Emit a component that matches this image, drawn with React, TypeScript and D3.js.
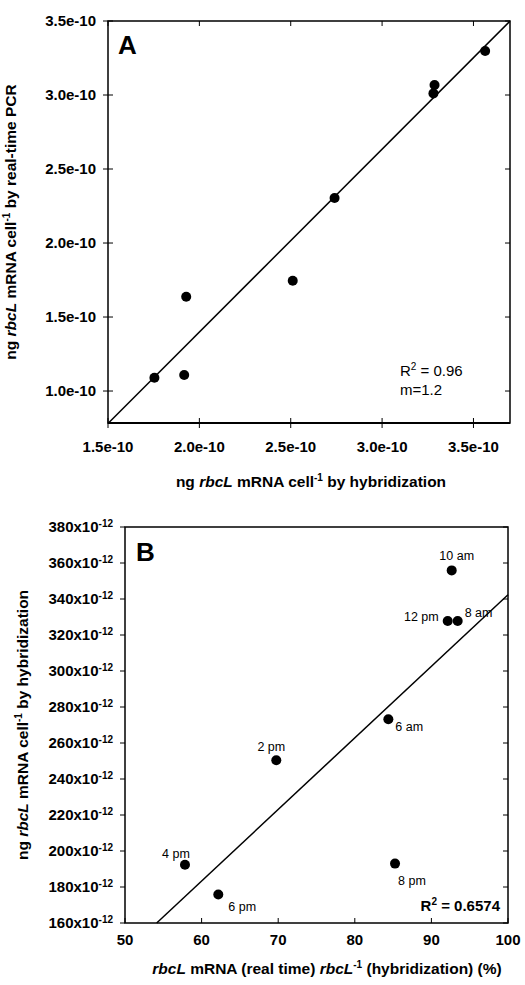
import React from 'react';
import * as d3 from 'd3';

// Panel A: hybridization vs real-time PCR (ng rbcL mRNA per cell)
const hybA = [3.564e-10, 3.287e-10, 3.281e-10, 2.74e-10, 2.511e-10, 1.928e-10, 1.917e-10, 1.754e-10];
const pcrA = [3.297e-10, 3.068e-10, 3.011e-10, 2.304e-10, 1.745e-10, 1.637e-10, 1.108e-10, 1.09e-10];
const ticksAx = [1.5e-10, 2.0e-10, 2.5e-10, 3.0e-10, 3.5e-10];
const ticksAy = [1.0e-10, 1.5e-10, 2.0e-10, 2.5e-10, 3.0e-10, 3.5e-10];
const fitA = { slope: 1.236, intercept: -1.074e-10 };

// Panel B: percentage vs hybridization (x10^-12)
const timesB = ['10 am', '12 pm', '8 am', '6 am', '2 pm', '4 pm', '6 pm', '8 pm'];
const pctB = [92.65, 92.13, 93.43, 84.38, 69.75, 57.83, 62.18, 85.25];
const hybB = [355.9, 327.8, 327.8, 273.2, 250.4, 192.4, 175.8, 193];
const ticksBx = [50, 60, 70, 80, 90, 100];
const ticksBy = [160, 180, 200, 220, 240, 260, 280, 300, 320, 340, 360, 380];
const fitB = { slope: 3.977, intercept: -55.3 };

const FONT = '"Liberation Sans", Arial, sans-serif';

// label placement per point, [dx, dy, anchor]
const labelPos: Record<string, [number, number, string]> = {
  '10 am': [5, -15, 'middle'],
  '12 pm': [-9, -4, 'end'],
  '8 am': [7, -8, 'start'],
  '6 am': [7, 7, 'start'],
  '2 pm': [-5, -14, 'middle'],
  '4 pm': [-9, -11, 'middle'],
  '6 pm': [10, 12, 'start'],
  '8 pm': [3, 17, 'start'],
};

const PanelA = () => {
  const L = 108, R = 510, T = 21, B = 423;
  const x = d3.scaleLinear().domain([1.5e-10, 3.7e-10]).range([L, R]);
  const y = d3.scaleLinear().domain([0.784e-10, 3.5e-10]).range([B, T]);
  const line = d3.line<number>()
    .x(d => x(d))
    .y(d => y(fitA.slope * d + fitA.intercept));
  const fmt = (v: number) => (v * 1e10).toFixed(1) + 'e-10';
  return (
    <g fontFamily={FONT}>
      <rect x={L} y={T} width={R - L} height={B - T} fill="none" stroke="#000" strokeWidth={1.5} />
      <line x1={L} x2={R} y1={B} y2={B} stroke="#000" strokeWidth={2} />
      {ticksAy.map(v => (
        <g key={v}>
          <line x1={L - 5} x2={L + 5} y1={y(v)} y2={y(v)} stroke="#000" />
          <line x1={R - 5} x2={R} y1={y(v)} y2={y(v)} stroke="#000" />
          <text x={L - 12} y={y(v)} dy="0.35em" textAnchor="end" fontSize={15} fontWeight="bold">{fmt(v)}</text>
        </g>
      ))}
      {ticksAx.map(v => (
        <g key={v}>
          <line x1={x(v)} x2={x(v)} y1={B - 5} y2={B + 5} stroke="#000" />
          <line x1={x(v)} x2={x(v)} y1={T} y2={T + 5} stroke="#000" />
          <text x={x(v)} y={B + 29} textAnchor="middle" fontSize={15} fontWeight="bold">{fmt(v)}</text>
        </g>
      ))}
      <path d={line(x.domain()) || ''} fill="none" stroke="#000" strokeWidth={1.5} />
      {hybA.map((h, i) => (
        <circle key={i} cx={x(h)} cy={y(pcrA[i])} r={5} fill="#000" />
      ))}
      <text x={118} y={54} fontSize={26} fontWeight="bold">A</text>
      <text x={400} y={376} fontSize={15}>
        <tspan>R</tspan><tspan dy={-6} fontSize={10}>2</tspan><tspan dy={6}> = 0.96</tspan>
      </text>
      <text x={400} y={395} fontSize={15}>m=1.2</text>
      <text x={(L + R) / 2 + 2} y={487} textAnchor="middle" fontSize={15.5} fontWeight="bold">
        <tspan>ng </tspan><tspan fontStyle="italic">rbcL</tspan><tspan> mRNA cell</tspan>
        <tspan dy={-6} fontSize={10}>-1</tspan><tspan dy={6}> by hybridization</tspan>
      </text>
      <text transform={`translate(16,${(T + B) / 2}) rotate(-90)`} textAnchor="middle" fontSize={15.5} fontWeight="bold">
        <tspan>ng </tspan><tspan fontStyle="italic">rbcL</tspan><tspan> mRNA cell</tspan>
        <tspan dy={-6} fontSize={10}>-1</tspan><tspan dy={6}> by real-time PCR</tspan>
      </text>
    </g>
  );
};

const PanelB = () => {
  const L = 125, R = 508, T = 527, B = 923;
  const x = d3.scaleLinear().domain([50, 100]).range([L, R]);
  const y = d3.scaleLinear().domain([160, 380]).range([B, T]);
  const x0 = (160 - fitB.intercept) / fitB.slope;
  const line = d3.line<number>()
    .x(d => x(d))
    .y(d => y(fitB.slope * d + fitB.intercept));
  return (
    <g fontFamily={FONT}>
      <rect x={L} y={T} width={R - L} height={B - T} fill="none" stroke="#000" strokeWidth={1.5} />
      {ticksBy.map(v => (
        <g key={v}>
          <line x1={L - 5} x2={L} y1={y(v)} y2={y(v)} stroke="#000" />
          <line x1={R - 5} x2={R} y1={y(v)} y2={y(v)} stroke="#000" />
          <text x={L - 12} y={y(v)} dy="0.35em" textAnchor="end" fontSize={15} fontWeight="bold">
            <tspan>{v}x10</tspan><tspan dy={-5} fontSize={10}>-12</tspan>
          </text>
        </g>
      ))}
      {ticksBx.map(v => (
        <g key={v}>
          <line x1={x(v)} x2={x(v)} y1={B - 5} y2={B} stroke="#000" />
          <text x={x(v)} y={B + 22} textAnchor="middle" fontSize={15} fontWeight="bold">{v}</text>
        </g>
      ))}
      <path d={line([x0, 100]) || ''} fill="none" stroke="#000" strokeWidth={1.5} />
      {pctB.map((p, i) => {
        const [dx, dy, anchor] = labelPos[timesB[i]];
        return (
          <g key={i}>
            <circle cx={x(p)} cy={y(hybB[i])} r={5} fill="#000" />
            <text x={x(p) + dx} y={y(hybB[i]) + dy} dy="0.35em" textAnchor={anchor as any} fontSize={12.5}>{timesB[i]}</text>
          </g>
        );
      })}
      <text x={136} y={561} fontSize={26} fontWeight="bold">B</text>
      <text x={500} y={911} textAnchor="end" fontSize={15} fontWeight="bold">
        <tspan>R</tspan><tspan dy={-6} fontSize={10}>2</tspan><tspan dy={6}> = 0.6574</tspan>
      </text>
      <text x={327} y={974} textAnchor="middle" fontSize={15.5} fontWeight="bold">
        <tspan fontStyle="italic">rbcL</tspan><tspan> mRNA (real time) </tspan><tspan fontStyle="italic">rbcL</tspan>
        <tspan dy={-6} fontSize={10}>-1</tspan><tspan dy={6}> (hybridization) (%)</tspan>
      </text>
      <text transform={`translate(28,${(T + B) / 2}) rotate(-90)`} textAnchor="middle" fontSize={15.5} fontWeight="bold">
        <tspan>ng </tspan><tspan fontStyle="italic">rbcL</tspan><tspan> mRNA cell</tspan>
        <tspan dy={-6} fontSize={10}>-1</tspan><tspan dy={6}> by hybridization</tspan>
      </text>
    </g>
  );
};

export default function App() {
  return (
    <svg width={525} height={985} style={{ position: 'absolute', left: 0, top: 0, background: '#fff' }}>
      <PanelA />
      <PanelB />
    </svg>
  );
}
